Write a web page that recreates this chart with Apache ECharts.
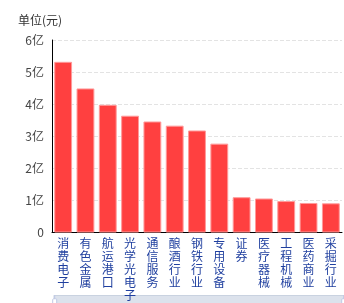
<!DOCTYPE html>
<html><head><meta charset="utf-8">
<script src="https://cdn.jsdelivr.net/npm/echarts@6/dist/echarts.min.js"></script>
<style>html,body{margin:0;padding:0;background:#fff}#c{width:344px;height:303px}</style>
</head><body><div id="c"></div>
<script>
var categories = ['消费电子','有色金属','航运港口','光学光电子','通信服务','酿酒行业','钢铁行业','专用设备','证券','医疗器械','工程机械','医药商业','采掘行业'];
var values = [5.32, 4.49, 3.98, 3.64, 3.46, 3.33, 3.18, 2.77, 1.10, 1.06, 0.98, 0.92, 0.91];
var yTicks = ['0','1亿','2亿','3亿','4亿','5亿','6亿'];

var chart = echarts.init(document.getElementById('c'));
chart.setOption({
  animation: false,
  grid: {left: 52, right: 2, top: 40, bottom: 70.5, containLabel: false},
  xAxis: {
    type: 'category', data: categories,
    axisLine: {lineStyle: {color: '#000', width: 1}},
    axisTick: {show: false},
    axisLabel: {
      interval: 0, margin: 4, color: '#1f3f9f', fontSize: 12, lineHeight: 13,
      fontFamily: 'Noto Sans CJK SC',
      formatter: function (v) { return v.split('').join('\n'); }
    }
  },
  yAxis: {
    type: 'value', min: 0, max: 6, interval: 1,
    name: '单位(元)', nameLocation: 'end', nameGap: 14,
    nameTextStyle: {color: '#333', fontSize: 12, align: 'right', padding: [0, -10, 0, 0], fontFamily: 'Noto Sans CJK SC'},
    axisLine: {show: true, lineStyle: {color: '#000', width: 1}},
    axisTick: {show: false},
    axisLabel: {color: '#444', fontSize: 12, margin: 8, fontFamily: 'Noto Sans CJK SC',
      formatter: function (v) { return yTicks[Math.round(v)]; }},
    splitLine: {lineStyle: {color: '#e3e3e3', type: 'dashed'}}
  },
  dataZoom: [{
    type: 'slider', show: true, xAxisIndex: 0, start: 0, end: 100,
    left: 53, right: 0, top: 295, height: 20, z: -1,
    showDataShadow: false, showDetail: false,
    backgroundColor: '#dde3ec', borderColor: '#c9d2e0',
    fillerColor: 'rgba(220,226,236,1)',
    moveHandleSize: 0
  }],
  series: [{
    type: 'bar', data: values, barCategoryGap: '20%',
    itemStyle: {color: '#ff4040', borderColor: '#ff9a9a', borderWidth: 1}
  }]
});
</script></body></html>
